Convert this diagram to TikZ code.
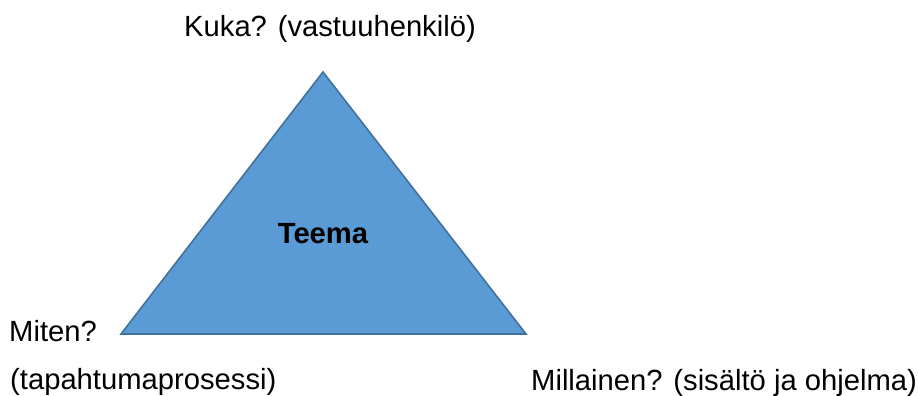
\documentclass[tikz,border=0pt]{standalone}
\usepackage{fontspec}
\setmainfont{Liberation Sans}
\definecolor{trifill}{HTML}{5B9BD5}
\definecolor{triedge}{HTML}{41719C}
\tikzset{
  lbl/.style={anchor=base west, inner sep=0pt, font=\fontsize{29.2}{35}\selectfont},
  tri/.style={fill=trifill, draw=triedge, line width=1.6pt, line join=miter}
}
\begin{document}
\begin{tikzpicture}[x=1pt,y=-1pt]
\useasboundingbox (0,0) rectangle (918,396);
\coordinate (apex) at (323,72);
\coordinate (bl) at (121,334);
\coordinate (br) at (526,334);
\filldraw[tri] (apex) -- (bl) -- (br) -- cycle;
\node[lbl] (kuka) at (184,37) {Kuka? (vastuuhenkilö)};
\node[lbl, anchor=base, font=\fontsize{29.2}{35}\selectfont\bfseries] (teema) at (323,243) {Teema};
\node[lbl] (miten) at (9,341) {Miten?};
\node[lbl] (tapa) at (10,389) {(tapahtumaprosessi)};
\node[lbl] (mill) at (531,390) {Millainen? (sisältö ja ohjelma)};
\end{tikzpicture}
\end{document}
